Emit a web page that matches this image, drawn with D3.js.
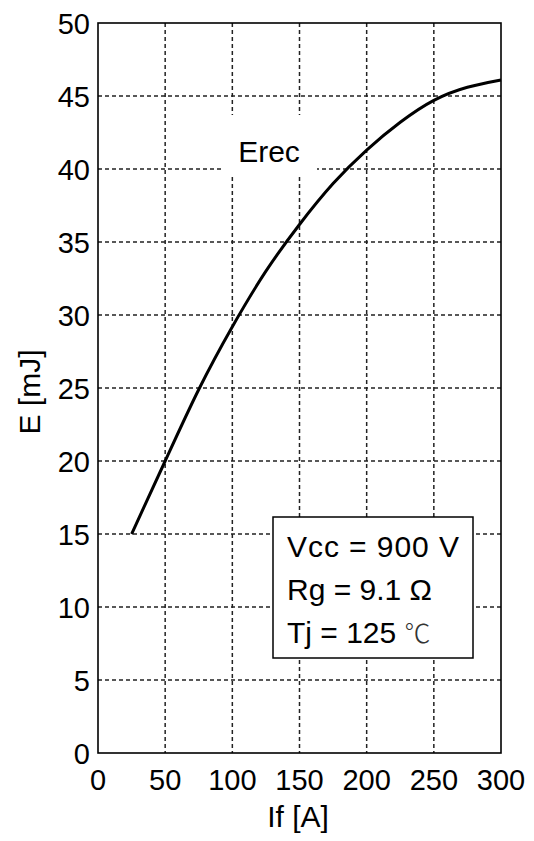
<!DOCTYPE html>
<html>
<head>
<meta charset="utf-8">
<script src="https://cdn.jsdelivr.net/npm/d3@7"></script>
<style>
  body { margin: 0; background: #fff; }
  text { font-family: "Liberation Sans", Arial, sans-serif; fill: #000; }
</style>
</head>
<body>
<svg id="chart" width="534" height="841"></svg>
<script>
// forward current [A] and recovery energy [mJ]
const currents = [25, 50, 75, 100, 125, 150, 175, 200, 225, 250, 275, 300];
const erec = [15, 20, 24.9, 29.2, 33.0, 36.2, 39.0, 41.3, 43.2, 44.7, 45.6, 46.1];
const xTicks = [0, 50, 100, 150, 200, 250, 300];
const yTicks = [0, 5, 10, 15, 20, 25, 30, 35, 40, 45, 50];
const conditions = ['Vcc = 900 V', 'Rg = 9.1 Ω', 'Tj = 125 '];

const svg = d3.select('#chart');
const margin = { left: 98, top: 23, right: 33, bottom: 88 };
const width = 534 - margin.left - margin.right;
const height = 841 - margin.top - margin.bottom;

const x = d3.scaleLinear().domain([0, 300]).range([margin.left, margin.left + width]);
const y = d3.scaleLinear().domain([0, 50]).range([margin.top + height, margin.top]);

// grid
const grid = svg.append('g')
  .attr('stroke', '#222')
  .attr('stroke-width', 1.5)
  .attr('stroke-dasharray', '4,3');

grid.selectAll('line.vx')
  .data(xTicks.slice(1, -1))
  .join('line')
  .attr('class', 'vx')
  .attr('x1', d => x(d)).attr('x2', d => x(d))
  .attr('y1', y(50)).attr('y2', y(0));

grid.selectAll('line.hy')
  .data(yTicks.slice(1, -1))
  .join('line')
  .attr('class', 'hy')
  .attr('x1', x(0)).attr('x2', x(300))
  .attr('y1', d => y(d)).attr('y2', d => y(d));

// label background for Erec
svg.append('rect')
  .attr('x', 222).attr('y', 115)
  .attr('width', 95).attr('height', 61)
  .attr('fill', '#fff');

svg.append('text')
  .attr('x', 269).attr('y', 162)
  .attr('text-anchor', 'middle')
  .attr('font-size', 30)
  .text('Erec');

// curve
const line = d3.line()
  .x((d, i) => x(currents[i]))
  .y(d => y(d))
  .curve(d3.curveNatural);

svg.append('path')
  .datum(erec)
  .attr('d', line)
  .attr('fill', 'none')
  .attr('stroke', '#000')
  .attr('stroke-width', 3);

// frame
svg.append('rect')
  .attr('x', x(0)).attr('y', y(50))
  .attr('width', width).attr('height', height)
  .attr('fill', 'none')
  .attr('stroke', '#000')
  .attr('stroke-width', 1.6);

// tick labels
svg.selectAll('text.xt')
  .data(xTicks)
  .join('text')
  .attr('class', 'xt')
  .attr('x', d => x(d))
  .attr('y', y(0) + 37)
  .attr('text-anchor', 'middle')
  .attr('font-size', 29)
  .text(d => d);

svg.selectAll('text.yt')
  .data(yTicks)
  .join('text')
  .attr('class', 'yt')
  .attr('x', x(0) - 8)
  .attr('y', d => y(d) + 11)
  .attr('text-anchor', 'end')
  .attr('font-size', 29)
  .text(d => d);

// axis titles
svg.append('text')
  .attr('x', 298).attr('y', 827)
  .attr('text-anchor', 'middle')
  .attr('font-size', 30)
  .text('If [A]');

svg.append('text')
  .attr('transform', 'translate(40,392) rotate(-90)')
  .attr('text-anchor', 'middle')
  .attr('font-size', 30)
  .text('E [mJ]');

// conditions box
svg.append('rect')
  .attr('x', 273).attr('y', 517)
  .attr('width', 200).attr('height', 141)
  .attr('fill', '#fff')
  .attr('stroke', '#000')
  .attr('stroke-width', 1.5);

const cond = svg.selectAll('text.cond')
  .data(conditions)
  .join('text')
  .attr('class', 'cond')
  .attr('x', 287)
  .attr('y', (d, i) => 557 + i * 43)
  .attr('font-size', 30)
  .attr('textLength', (d, i) => i === 0 ? 172 : null)
  .text(d => d);

cond.filter((d, i) => i === 2)
  .append('tspan')
  .style('font-family', '"Noto Sans CJK SC", sans-serif')
  .attr('font-size', 26)
  .attr('font-weight', 300)
  .attr('fill', '#333')
  .text('℃');
</script>
</body>
</html>
